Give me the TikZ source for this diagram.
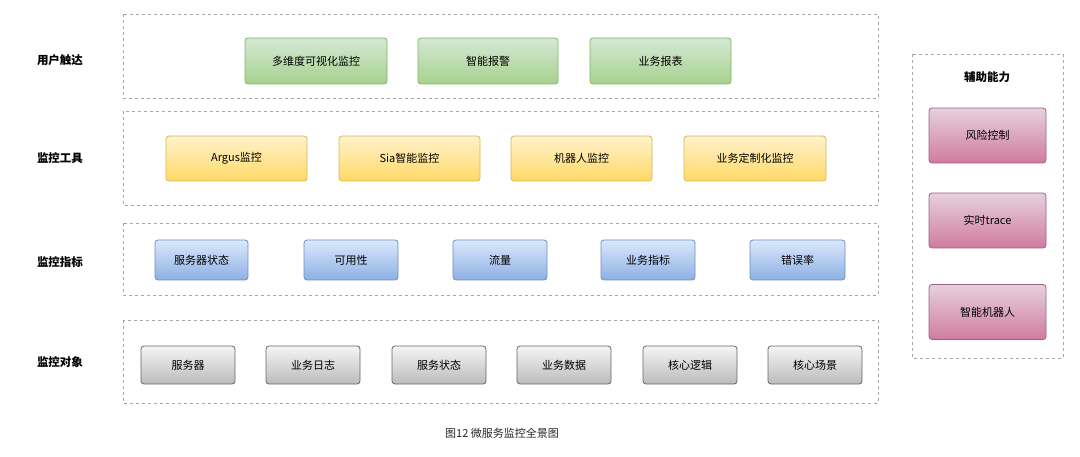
\documentclass[tikz,border=0pt]{standalone}
\usepackage{fontspec}
\setmainfont{Noto Sans CJK SC}
\definecolor{g1}{HTML}{D5E8D4}\definecolor{g2}{HTML}{A6D18E}\definecolor{gd}{HTML}{82B366}
\definecolor{y1}{HTML}{FFF2CC}\definecolor{y2}{HTML}{FFD966}\definecolor{yd}{HTML}{D6B656}
\definecolor{b1}{HTML}{DAE8FC}\definecolor{b2}{HTML}{8EB0E4}\definecolor{bd}{HTML}{6C8EBF}
\definecolor{k1}{HTML}{F5F5F5}\definecolor{k2}{HTML}{BBBBBB}\definecolor{kd}{HTML}{666666}
\definecolor{p1}{HTML}{E6D0DE}\definecolor{p2}{HTML}{D07BA0}\definecolor{pd}{HTML}{996185}
\begin{document}
\begin{tikzpicture}[x=1pt,y=-1pt,
 layer/.style={draw=black!35,dashed,dash pattern=on 3pt off 3pt},
 bx/.style={rounded corners=3pt,line width=0.8pt,font=\fontsize{11}{13}\selectfont,inner sep=0pt},
 gbox/.style={bx,top color=g1,bottom color=g2,draw=gd},
 ybox/.style={bx,top color=y1,bottom color=y2,draw=yd},
 bbox/.style={bx,top color=b1,bottom color=b2,draw=bd},
 kbox/.style={bx,top color=k1,bottom color=k2,draw=kd},
 pbox/.style={bx,top color=p1,bottom color=p2,draw=pd},
 lab/.style={font=\bfseries\fontsize{11.5}{13}\selectfont}]
\useasboundingbox (0,0) rectangle (1080,457);
\draw[layer] (123,14) rectangle (878,98);
\draw[layer] (123,111) rectangle (878,205);
\draw[layer] (123,223) rectangle (878,295);
\draw[layer] (123,320) rectangle (878,403);
\draw[layer] (912,54) rectangle (1063,358);
\node[lab] (l1) at (60,60) {用户触达};
\node[lab] (l2) at (60,158) {监控工具};
\node[lab] (l3) at (60,262) {监控指标};
\node[lab] (l4) at (60,362) {监控对象};
\node[lab] (l5) at (987,77) {辅助能力};
\foreach \a/\b/\t/\n in {245/387/多维度可视化监控/g1,418/558/智能报警/g2,590/731/业务报表/g3}
 \node[gbox,minimum width=\b-\a,minimum height=46] (\n) at ({(\a+\b)/2},61) {\t};
\foreach \a/\b/\t/\n in {166/307/Argus监控/y1,339/480/Sia智能监控/y2,511/652/机器人监控/y3,684/826/业务定制化监控/y4}
 \node[ybox,minimum width=\b-\a,minimum height=45] (\n) at ({(\a+\b)/2},158.5) {\t};
\foreach \a/\b/\t/\n in {155/248/服务器状态/b1,304/398/可用性/b2,453/547/流量/b3,601/695/业务指标/b4,750/845/错误率/b5}
 \node[bbox,minimum width=\b-\a,minimum height=40] (\n) at ({(\a+\b)/2},260) {\t};
\foreach \a/\b/\t/\n in {141/235/服务器/k1,266/360/业务日志/k2,392/486/服务状态/k3,517/611/业务数据/k4,643/737/核心逻辑/k5,768/862/核心场景/k6}
 \node[kbox,minimum width=\b-\a,minimum height=38] (\n) at ({(\a+\b)/2},365) {\t};
\foreach \y/\t/\n in {135.5/风险控制/p1,220.5/实时trace/p2,312/智能机器人/p3}
 \node[pbox,minimum width=117,minimum height=55] (\n) at (987.5,\y) {\t};
\node[font=\fontsize{11}{13}\selectfont,text=black!85] (cap) at (502,433) {图12 微服务监控全景图};
\end{tikzpicture}
\end{document}
